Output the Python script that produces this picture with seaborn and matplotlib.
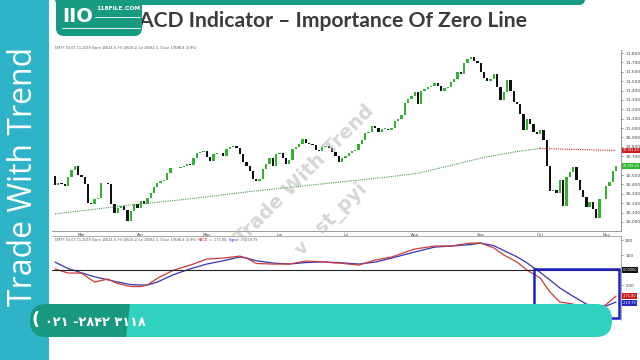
import numpy as np
import pandas as pd
import matplotlib
matplotlib.use("Agg")
import matplotlib.pyplot as plt
import matplotlib.transforms as mtransforms
from matplotlib.patches import Rectangle, FancyBboxPatch, Polygon
import seaborn as sns

# ---------------- data ----------------
closes = [10390, 10420, 10400, 10380, 10480, 10550, 10600, 10500, 10480, 10400,
          10200, 10190, 10250, 10260, 10410, 10420, 10400, 10190, 10100, 10150,
          10170, 10130, 10010, 10120, 10190, 10150, 10220, 10190, 10260, 10310,
          10370, 10410, 10440, 10450, 10520, 10580, 10570, 10570, 10590, 10600,
          10620, 10610, 10680, 10730, 10750, 10760, 10690, 10650, 10720, 10740,
          10730, 10700, 10780, 10800, 10810, 10790, 10720, 10640, 10600, 10540,
          10460, 10440, 10460, 10560, 10620, 10680, 10600, 10720, 10740, 10680,
          10620, 10660, 10780, 10800, 10830, 10880, 10840, 10830, 10820, 10770,
          10760, 10800, 10810, 10790, 10750, 10700, 10640, 10680, 10700, 10740,
          10760, 10770, 10830, 10870, 10950, 10960, 11020, 11000, 10960, 10990,
          10990, 10980, 11000, 11080, 11100, 11140, 11270, 11310, 11340, 11380,
          11260, 11390, 11420, 11440, 11450, 11480, 11450, 11390, 11430, 11440,
          11490, 11520, 11600, 11580, 11690, 11740, 11760, 11720, 11690, 11600,
          11530, 11500, 11520, 11580, 11440, 11300, 11380, 11510, 11390, 11280,
          11260, 11150, 10980, 11100, 11040, 10960, 10940, 10980, 10870, 10600,
          10330, 10340, 10310, 10450, 10170, 10480, 10530, 10590, 10450, 10340,
          10270, 10160, 10210, 10140, 10040, 10240, 10250, 10380, 10430, 10540,
          10600]
first_open = 10490

month_labels = ["Mar", "Apr", "May", "Jun", "Jul", "Aug", "Sep", "Oct", "Nov"]
month_pos = [8, 26, 46, 68, 88, 109, 129, 147, 167]

ma_idx = [0, 20, 40, 60, 80, 100, 110, 120, 130, 140, 147]
ma_vals = [10085, 10170, 10243, 10328, 10402, 10476, 10519, 10603, 10688, 10751, 10783]
ma_red_idx = [147, 150, 160, 170]
ma_red_vals = [10783, 10780, 10770, 10762]

macd_idx = [0, 4, 8, 12, 16, 19, 23, 26, 28, 31, 36, 41, 46, 51, 56, 58, 61, 66,
            71, 76, 81, 85, 86, 92, 97, 102, 109, 115, 120, 126, 129, 133, 136,
            140, 143, 147, 150, 153, 157, 161, 165, 167, 170]
macd_vals = [7, -20, -20, -80, -60, -90, -110, -110, -100, -55, 0, 33, 73, 80,
             93, 80, 44, 40, 40, 60, 55, 47, 47, 33, 67, 87, 140, 160, 160, 180,
             180, 147, 100, 53, 0, -53, -147, -213, -227, -247, -250, -230, -173]
signal_vals = [53, 10, -18, -45, -65, -80, -97, -100, -100, -80, -30, 8, 40, 62,
               87, 80, 62, 47, 40, 50, 55, 50, 50, 40, 53, 80, 120, 153, 160, 170,
               180, 162, 130, 88, 48, -15, -67, -120, -175, -227, -245, -240, -213]

price_ticks = list(range(10000, 11801, 100))
macd_ticks = [200, 100, -100]
last_close_label = 10598.40
ma_label = 10762.40
macd_last = -171.80
signal_last = -219.79

# ---------------- figure ----------------
sns.set_style("white")
plt.rcParams["font.family"] = ["DejaVu Sans"]
fig = plt.figure(figsize=(6.4, 3.6), dpi=100)
W, H = 640, 360

def axrect(x0, y0, x1, y1):
    return [x0 / W, 1 - y1 / H, (x1 - x0) / W, (y1 - y0) / H]

ax = fig.add_axes(axrect(52, 50, 621, 231))
axm = fig.add_axes(axrect(52, 236, 621, 320))

df = pd.DataFrame({"close": closes})
df["open"] = [first_open] + closes[:-1]
df["idx"] = np.arange(len(df))
df["lo"] = df[["open", "close"]].min(axis=1)
df["body"] = (df["close"] - df["open"]).abs().clip(lower=6)
cols = np.where(df["close"] >= df["open"], "#35b235", "#111111")
ax.bar(df["idx"], df["body"], bottom=df["lo"], width=0.7, color=cols, linewidth=0)

sns.lineplot(x=ma_idx, y=ma_vals, ax=ax, color="#4a9a4a", lw=0.8, linestyle=(0, (1, 1)))
sns.lineplot(x=ma_red_idx, y=ma_red_vals, ax=ax, color="#d02020", lw=0.8, linestyle=(0, (1, 1)))

xl = (-0.9, 171.5)
ax.set_xlim(*xl)
ax.set_ylim(9904, 11832)
for s in ["left", "top"]:
    ax.spines[s].set_visible(False)
for s in ["right", "bottom"]:
    ax.spines[s].set_color("#888888")
    ax.spines[s].set_linewidth(0.6)
ax.yaxis.tick_right()
ax.set_yticks(price_ticks)
ax.set_yticklabels([f"{v:,}" for v in price_ticks])
ax.set_xticks(month_pos)
ax.set_xticklabels(month_labels)
ax.tick_params(axis="y", labelsize=3.2, colors="#444444", length=1.5, width=0.4, pad=1.5)
ax.tick_params(axis="x", labelsize=3.0, colors="#444444", length=1.2, width=0.4, pad=0.3)

tr = mtransforms.blended_transform_factory(ax.transAxes, ax.transData)
ax.text(1.003, ma_label, f"{ma_label:,.2f}", transform=tr, fontsize=2.3, color="white",
        va="center", zorder=5, bbox=dict(boxstyle="square,pad=0.25", fc="#c81e1e", ec="none"))
ax.text(1.003, last_close_label, f"{last_close_label:,.2f}", transform=tr, fontsize=2.3,
        color="white", va="center", zorder=5,
        bbox=dict(boxstyle="square,pad=0.25", fc="#2fb52f", ec="none"))

# MACD panel
sns.lineplot(x=macd_idx, y=signal_vals, ax=axm, color="#3434b4", lw=0.9)
sns.lineplot(x=macd_idx, y=macd_vals, ax=axm, color="#cc3b3b", lw=0.9)
axm.axhline(0, color="#222222", lw=0.8)
axm.set_xlim(*xl)
axm.set_ylim(-333, 227)
for s in ["left", "bottom"]:
    axm.spines[s].set_visible(False)
for s in ["right", "top"]:
    axm.spines[s].set_color("#888888")
    axm.spines[s].set_linewidth(0.5)
axm.yaxis.tick_right()
axm.set_yticks(macd_ticks)
axm.set_yticklabels([str(v) for v in macd_ticks])
axm.set_xticks([])
axm.tick_params(axis="y", labelsize=3.2, colors="#444444", length=1.5, width=0.4, pad=1.5)
trm = mtransforms.blended_transform_factory(axm.transAxes, axm.transData)
axm.text(1.003, 0, "0.00000", transform=trm, fontsize=2.5, color="white", va="center",
         bbox=dict(boxstyle="square,pad=0.25", fc="#111111", ec="none"))
axm.text(1.003, macd_last, f"{macd_last:.2f}", transform=trm, fontsize=2.5, color="white",
         va="center", bbox=dict(boxstyle="square,pad=0.25", fc="#c81e1e", ec="none"))
axm.text(1.003, signal_last, f"{signal_last:.2f}", transform=trm, fontsize=2.5, color="white",
         va="center", bbox=dict(boxstyle="square,pad=0.25", fc="#2626c8", ec="none"))

# ---------------- decorations (pixel coordinates) ----------------
deco = fig.add_axes([0, 0, 1, 1], zorder=10)
deco.set_xlim(0, W)
deco.set_ylim(H, 0)
deco.axis("off")
deco.patch.set_alpha(0)

info = "NIFTY 03-07-11-2018 Open 10614.5, Hi 10616.2, Lo 10582.3, Close 10598.4 (0.9%)"
deco.text(55, 48, info, fontsize=2.4, color="#555555", va="center")

# MACD info line, pieces placed one after another
renderer = fig.canvas.get_renderer()
pieces = [(info + " ", "#555555"), ("MACD", "#d02020"), (" = -171.80, ", "#555555"),
          ("Signal", "#2626c8"), (" = -219.79", "#555555")]
xpos = 55.0
for txt, col in pieces:
    t = deco.text(xpos, 240, txt, fontsize=2.4, color=col, va="center")
    bb = t.get_window_extent(renderer=renderer)
    xpos += bb.width * (W / fig.bbox.width)

# watermarks
deco.text(305, 175, "Trade With Trend", rotation=45, ha="center", va="center",
          fontsize=14, fontweight="bold", color="#b5b5b5", alpha=0.55)
deco.text(342, 208, "st_pyi", rotation=45, ha="center", va="center",
          fontsize=14, fontweight="bold", color="#b5b5b5", alpha=0.55)
deco.text(302, 248, "v", rotation=45, ha="center", va="center",
          fontsize=13, fontweight="bold", color="#b5b5b5", alpha=0.55)

# blue highlight rectangle
deco.add_patch(Rectangle((534, 269), 85, 49, fill=False, ec="#2020c0", lw=1.8, zorder=2))

# title + header
deco.text(527, 27, "MACD Indicator \u2013 Importance Of Zero Line", ha="right",
          va="baseline", fontsize=15.2, fontweight="bold", color="#3b3b3b",
          family=["Lato", "DejaVu Sans"], zorder=3)
deco.add_patch(FancyBboxPatch((55, -12), 530, 17, boxstyle="round,pad=0,rounding_size=6",
                              fc="#149c82", ec="none", zorder=4))
deco.add_patch(FancyBboxPatch((56, -12), 86, 48, boxstyle="round,pad=0,rounding_size=8",
                              fc="#169b80", ec="none", zorder=5))
deco.text(62, 17, "IIO", fontsize=14, fontweight="bold", color="white", va="center", zorder=6)
deco.text(118, 9, "118FILE.COM", fontsize=4.3, fontweight="bold", color="white",
          ha="center", va="center", zorder=6)
deco.plot([95, 140], [17, 17], color="white", lw=0.6, zorder=6)
deco.plot([62, 140], [28, 28], color="white", lw=0.6, zorder=6)

# left strip
deco.add_patch(Rectangle((0, 0), 49, H, fc="#2eb3c8", ec="none", zorder=4))
deco.text(24, 176, "Trade With Trend", rotation=90, ha="center", va="center",
          fontsize=23, color="white", family=["Open Sans", "DejaVu Sans"], zorder=5)

# bottom banner
deco.add_patch(FancyBboxPatch((30, 304), 582, 33, boxstyle="round,pad=0,rounding_size=16",
                              fc="#30d1be", ec="none", zorder=6))
deco.add_patch(FancyBboxPatch((30, 304), 85, 33, boxstyle="round,pad=0,rounding_size=16",
                              fc="#18997f", ec="none", zorder=7))
deco.add_patch(Polygon([(100, 304), (130, 304), (126, 337), (100, 337)],
                       closed=True, fc="#18997f", ec="none", zorder=7))
deco.text(36, 320, "(", fontsize=13, fontweight="bold", color="white",
          ha="center", va="center", zorder=8)
deco.text(45, 322, "\u06f0\u06f2\u06f1 -\u06f2\u06f8\u06f4\u06f2 \u06f3\u06f1\u06f1\u06f8",
          fontsize=9.3, fontweight="bold", color="white", ha="left", va="center",
          family=["DejaVu Sans"], zorder=8)

fig.savefig("out.png", dpi=100)
